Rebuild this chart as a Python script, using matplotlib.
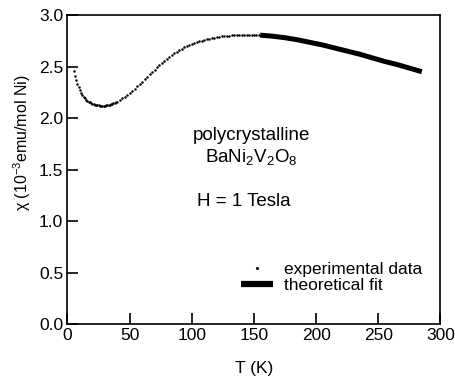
import matplotlib
matplotlib.use("Agg")
import matplotlib.pyplot as plt
from matplotlib.lines import Line2D

plt.rcParams['font.family'] = ['Liberation Sans', 'DejaVu Sans']
plt.rcParams['mathtext.fontset'] = 'custom'
plt.rcParams['mathtext.rm'] = 'Liberation Sans'
plt.rcParams['mathtext.it'] = 'Liberation Sans:italic'

# experimental data (T in K, chi in 1e-3 emu/mol Ni)
T_exp = [5, 6, 7, 8, 9, 10, 11, 12, 13, 14, 15, 16, 17, 18, 19, 20, 21, 22, 23, 24,
         25, 26, 27, 28, 29, 30, 31, 32, 33, 34, 35, 36, 37, 38, 39, 40, 42, 44, 46,
         48, 50, 52, 54, 56, 58, 60, 62, 64, 66, 68, 70, 72, 74, 76, 78, 80, 82, 84,
         86, 88, 90, 92, 94, 96, 98, 100, 102, 104, 106, 108, 110, 112, 114, 116,
         118, 120, 122, 124, 126, 128, 130, 132, 134, 136, 138, 140, 142, 144, 146,
         148, 150, 152, 154]
chi_exp = [2.46, 2.41, 2.37, 2.33, 2.30, 2.27, 2.245, 2.225, 2.205, 2.19, 2.178, 2.168,
           2.16, 2.152, 2.146, 2.14, 2.135, 2.131, 2.128, 2.125, 2.123, 2.121, 2.12,
           2.12, 2.12, 2.121, 2.122, 2.124, 2.127, 2.13, 2.134, 2.138, 2.143, 2.148,
           2.153, 2.16, 2.174, 2.19, 2.207, 2.225, 2.244, 2.265, 2.286, 2.308, 2.33,
           2.353, 2.376, 2.40, 2.424, 2.447, 2.47, 2.492, 2.514, 2.535, 2.556, 2.575,
           2.594, 2.612, 2.629, 2.645, 2.66, 2.674, 2.687, 2.699, 2.71, 2.72, 2.729,
           2.738, 2.746, 2.753, 2.76, 2.766, 2.772, 2.777, 2.782, 2.786, 2.79, 2.793,
           2.796, 2.799, 2.801, 2.803, 2.805, 2.806, 2.807, 2.808, 2.809, 2.809, 2.81,
           2.81, 2.81, 2.81, 2.81]

# theoretical fit
T_fit = [155, 165, 175, 185, 195, 205, 215, 225, 235, 245, 255, 265, 275, 285]
chi_fit = [2.805, 2.795, 2.78, 2.76, 2.735, 2.71, 2.68, 2.65, 2.62, 2.585, 2.55,
           2.52, 2.485, 2.45]

x_ticks = [0, 50, 100, 150, 200, 250, 300]
y_ticks = [0.0, 0.5, 1.0, 1.5, 2.0, 2.5, 3.0]

FS = 12.5

fig = plt.figure(figsize=(4.56, 3.77), dpi=100)
ax = fig.add_axes([0.148, 0.1406, 0.818, 0.8194])

ax.plot(T_exp, chi_exp, linestyle='none', marker='o', markersize=1.8,
        color='black', markeredgewidth=0)
ax.plot(T_fit, chi_fit, color='black', linewidth=3.6, solid_capstyle='butt')

ax.set_xlim(0, 300)
ax.set_ylim(0, 3.0)
ax.set_xticks(x_ticks)
ax.set_xticklabels([str(v) for v in x_ticks])
ax.set_yticks(y_ticks)
ax.set_yticklabels([f"{v:.1f}" for v in y_ticks])
ax.tick_params(direction='in', length=8, width=1.2, labelsize=FS, pad=3,
               top=False, right=False)
for s in ax.spines.values():
    s.set_linewidth(1.2)

ax.set_xlabel("T (K)", fontsize=FS, va='center')
ax.xaxis.set_label_coords(0.5, -0.143)
ax.set_ylabel("χ (10$^{-3}$emu/mol Ni)", fontsize=11.5)
ax.yaxis.set_label_coords(-0.092, 0.586)

ax.text(147.6, 1.786, "polycrystalline", ha='center', va='baseline', fontsize=13.5)
ax.text(147.6, 1.576, "BaNi$_2$V$_2$O$_8$", ha='center', va='baseline', fontsize=13.5)
ax.text(142, 1.149, "H = 1 Tesla", ha='center', va='baseline', fontsize=13.5)

handles = [Line2D([], [], linestyle='none', marker='o', markersize=2.2, color='black',
                  markeredgewidth=0),
           Line2D([], [], color='black', linewidth=4.5, solid_capstyle='butt')]
ax.legend(handles, ["experimental data", "theoretical fit"], frameon=False,
          loc='lower left', bbox_to_anchor=(0.5285, 0.222),
          bbox_transform=fig.transFigure, fontsize=FS, borderpad=0,
          handlelength=1.85, handletextpad=0.6, labelspacing=0.05, borderaxespad=0)

fig.savefig("out.png", dpi=100)
